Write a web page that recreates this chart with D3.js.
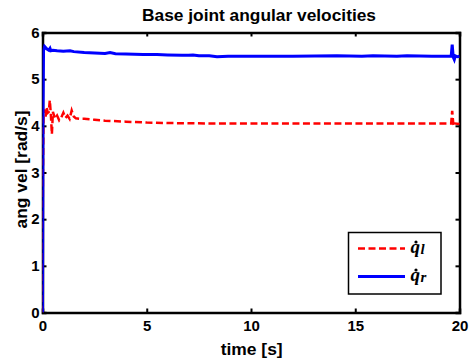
<!DOCTYPE html>
<html><head><meta charset="utf-8">
<script src="https://cdn.jsdelivr.net/npm/d3@7"></script>
<style>body{margin:0;background:#fff}svg{display:block}</style>
</head><body>
<script>
// Data
const xTicks = [0, 5, 10, 15, 20];
const yTicks = [0, 1, 2, 3, 4, 5, 6];
const leftT = [0, 0.02, 0.05, 0.1, 0.15, 0.2, 0.25, 0.3, 0.35, 0.4, 0.45, 0.5, 0.6, 0.7, 0.8, 0.9, 1.0, 1.1, 1.2, 1.3, 1.4, 1.5, 1.6, 1.8, 2.0, 2.5, 3.0, 4.0, 5.0, 6.0, 8.0, 10.0, 12.0, 15.0, 18.0, 19.55, 19.6, 19.65, 19.7, 19.75, 19.8, 20.0];
const leftV = [0, 3.0, 4.25, 4.35, 4.2, 4.4, 4.28, 4.3, 4.55, 4.25, 3.82, 4.3, 4.15, 4.22, 4.12, 4.18, 4.28, 4.17, 4.22, 4.15, 4.33, 4.2, 4.16, 4.15, 4.15, 4.13, 4.11, 4.09, 4.07, 4.06, 4.05, 4.05, 4.05, 4.05, 4.05, 4.05, 4.05, 4.32, 4.05, 3.99, 4.05, 4.04];
const rightT = [0, 0.02, 0.05, 0.1, 0.2, 0.3, 0.36, 0.4, 0.5, 0.7, 1.0, 1.32, 1.5, 2.0, 2.5, 3.0, 3.24, 3.5, 4.0, 4.82, 5.0, 5.49, 6.0, 6.69, 7.0, 7.22, 7.5, 8.0, 8.37, 8.9, 9.5, 10.67, 12.0, 14.12, 15.32, 15.85, 17.0, 17.48, 18.68, 19.21, 19.6, 19.65, 19.7, 19.75, 19.8, 19.9, 20.0];
const rightV = [0, 4.0, 5.62, 5.7, 5.65, 5.62, 5.66, 5.61, 5.62, 5.61, 5.6, 5.61, 5.59, 5.57, 5.56, 5.55, 5.57, 5.545, 5.54, 5.53, 5.53, 5.53, 5.52, 5.51, 5.51, 5.52, 5.5, 5.5, 5.48, 5.49, 5.49, 5.49, 5.49, 5.5, 5.49, 5.5, 5.49, 5.5, 5.49, 5.49, 5.49, 5.74, 5.47, 5.42, 5.5, 5.48, 5.49];
const legendLabels = [{q: "q", sub: "l"}, {q: "q", sub: "r"}];

const W = 469, H = 363;
const m = {left: 42.5, right: 459.5, top: 32.5, bottom: 312.5};
const svg = d3.select("body").append("svg").attr("width", W).attr("height", H)
  .style("font-family", "Liberation Sans, Arial, sans-serif");

const x = d3.scaleLinear().domain([0, 20]).range([m.left, m.right]);
const y = d3.scaleLinear().domain([0, 6]).range([m.bottom, m.top]);

svg.append("defs").append("clipPath").attr("id", "clip")
  .append("rect").attr("x", m.left).attr("y", m.top - 2)
  .attr("width", m.right - m.left + 2).attr("height", m.bottom - m.top + 2);

// Axes
const gx = svg.append("g").attr("transform", `translate(0,${m.bottom})`)
  .call(d3.axisBottom(x).tickValues(xTicks).tickSize(-4).tickPadding(8).tickFormat(d3.format("d")));
const gxt = svg.append("g").attr("transform", `translate(0,${m.top})`)
  .call(d3.axisTop(x).tickValues(xTicks).tickSize(-4).tickFormat(""));
const gy = svg.append("g").attr("transform", `translate(${m.left},0)`)
  .call(d3.axisLeft(y).tickValues(yTicks).tickSize(-4).tickPadding(3).tickFormat(d3.format("d")));
const gyr = svg.append("g").attr("transform", `translate(${m.right},0)`)
  .call(d3.axisRight(y).tickValues(yTicks).tickSize(-4).tickFormat(""));
[gx, gxt, gy, gyr].forEach(g => {
  g.select(".domain").attr("stroke", "#000").attr("stroke-width", 2.5);
  g.selectAll(".tick line").attr("stroke", "#000").attr("stroke-width", 2);
  g.selectAll(".tick text").attr("fill", "#000").style("font-size", "15px").style("font-weight", "bold");
});

// Lines
const line = d3.line().x(d => x(d[0])).y(d => y(d[1]));
const plot = svg.append("g").attr("clip-path", "url(#clip)");
plot.append("path").datum(leftT.map((t, i) => [t, leftV[i]]))
  .attr("d", line).attr("fill", "none").attr("stroke", "#ff0000")
  .attr("stroke-width", 2.5).attr("stroke-dasharray", "7,3.5");
plot.append("path").datum(rightT.map((t, i) => [t, rightV[i]]))
  .attr("d", line).attr("fill", "none").attr("stroke", "#0000ff")
  .attr("stroke-width", 3);

// Title & labels
svg.append("text").attr("x", 259).attr("y", 20.5).attr("text-anchor", "middle")
  .attr("textLength", 234).attr("lengthAdjust", "spacingAndGlyphs")
  .style("font-size", "16px").style("font-weight", "bold").text("Base joint angular velocities");
svg.append("text").attr("x", 251.7).attr("y", 355).attr("text-anchor", "middle")
  .attr("textLength", 62).attr("lengthAdjust", "spacingAndGlyphs")
  .style("font-size", "16px").style("font-weight", "bold").text("time [s]");
svg.append("text").attr("transform", `translate(26.5,169.5) rotate(-90)`)
  .attr("text-anchor", "middle").attr("textLength", 118).attr("lengthAdjust", "spacingAndGlyphs")
  .style("font-size", "16px").style("font-weight", "bold").text("ang vel [rad/s]");

// Legend
const lg = svg.append("g");
lg.append("rect").attr("x", 348.5).attr("y", 232.5).attr("width", 92.5).attr("height", 61.5)
  .attr("fill", "#fff").attr("stroke", "#000").attr("stroke-width", 1.5);
const ly = [248.5, 276.5];
const styles = [{c: "#ff0000", dash: "7,3.5", w: 2.5}, {c: "#0000ff", dash: null, w: 3}];
legendLabels.forEach((l, i) => {
  lg.append("line").attr("x1", 358).attr("x2", 405).attr("y1", ly[i]).attr("y2", ly[i])
    .attr("stroke", styles[i].c).attr("stroke-width", styles[i].w).attr("stroke-dasharray", styles[i].dash);
  const t = lg.append("text").attr("x", 410.5).attr("y", ly[i] + 4)
    .style("font-family", "Liberation Serif, Times New Roman, serif")
    .style("font-style", "italic").style("font-weight", "bold").style("font-size", "19px");
  t.append("tspan").text(l.q);
  t.append("tspan").attr("dy", 1).attr("dx", 0.5).style("font-size", "15px").text(l.sub);
  lg.append("circle").attr("cx", 416).attr("cy", ly[i] - 6.5).attr("r", 1.6).attr("fill", "#000");
});
</script>
</body></html>
